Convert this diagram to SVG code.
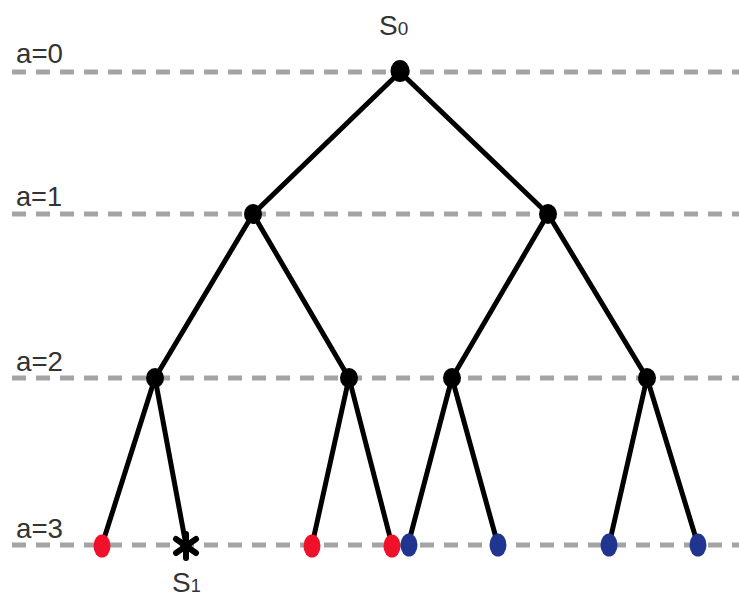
<svg xmlns="http://www.w3.org/2000/svg" width="739" height="606" viewBox="0 0 739 606">
<style>
.lvl{stroke:#a4a4a4;stroke-width:5;stroke-dasharray:14 10;fill:none}
.edge{stroke:#000;stroke-width:5;fill:none;stroke-linecap:round}
.lab{font-family:"Liberation Sans",Arial,sans-serif;font-size:28px;fill:#333}
.nd{fill:#000}
.red{fill:#f0102a}
.blue{fill:#1f3590}
</style>
<rect width="739" height="606" fill="#fff"/>
<g id="levels">
<line class="lvl" x1="12" y1="72" x2="739" y2="72"/>
<line class="lvl" x1="12" y1="214" x2="739" y2="214"/>
<line class="lvl" x1="12" y1="378" x2="739" y2="378"/>
<line class="lvl" x1="12" y1="545" x2="739" y2="545"/>
<text class="lab" x="16" y="63" textLength="47" lengthAdjust="spacingAndGlyphs">a=0</text>
<text class="lab" x="16" y="206" textLength="46" lengthAdjust="spacingAndGlyphs">a=1</text>
<text class="lab" x="16" y="371" textLength="47" lengthAdjust="spacingAndGlyphs">a=2</text>
<text class="lab" x="16" y="538" textLength="47" lengthAdjust="spacingAndGlyphs">a=3</text>
</g>
<g id="connectors">
<line class="edge" x1="400" y1="72" x2="253" y2="214"/>
<line class="edge" x1="400" y1="72" x2="548" y2="214"/>
<line class="edge" x1="253" y1="214" x2="155" y2="378"/>
<line class="edge" x1="253" y1="214" x2="349" y2="378"/>
<line class="edge" x1="548" y1="214" x2="452" y2="378"/>
<line class="edge" x1="548" y1="214" x2="647" y2="378"/>
<line class="edge" x1="155" y1="378" x2="102" y2="545"/>
<line class="edge" x1="155" y1="378" x2="186" y2="545"/>
<line class="edge" x1="349" y1="378" x2="312" y2="545"/>
<line class="edge" x1="349" y1="378" x2="392" y2="545"/>
<line class="edge" x1="452" y1="378" x2="408" y2="545"/>
<line class="edge" x1="452" y1="378" x2="498" y2="545"/>
<line class="edge" x1="647" y1="378" x2="609" y2="545"/>
<line class="edge" x1="647" y1="378" x2="698" y2="545"/>
</g>
<g id="s0"><ellipse class="nd" cx="400" cy="71" rx="9.5" ry="11"/>
<text class="lab" x="379" y="35" font-size="28">S<tspan font-size="19">0</tspan></text></g>
<g id="n1a"><ellipse class="nd" cx="253" cy="214" rx="9" ry="10"/></g>
<g id="n1b"><ellipse class="nd" cx="548" cy="214" rx="9" ry="10"/></g>
<g id="n2a"><ellipse class="nd" cx="155" cy="378" rx="9" ry="10"/></g>
<g id="n2b"><ellipse class="nd" cx="349" cy="378" rx="9" ry="10"/></g>
<g id="n2c"><ellipse class="nd" cx="452" cy="378" rx="9" ry="10"/></g>
<g id="n2d"><ellipse class="nd" cx="647" cy="378" rx="9" ry="10"/></g>
<g id="l1"><ellipse class="red" cx="102" cy="546" rx="8.5" ry="11.5"/></g>
<g id="s1"><g stroke="#000" stroke-width="6" stroke-linecap="round">
<line x1="186" y1="534" x2="186" y2="558"/>
<line x1="176" y1="539" x2="196" y2="553"/>
<line x1="176" y1="553" x2="196" y2="539"/></g>
<text class="lab" x="172" y="592" font-size="27">S<tspan font-size="18">1</tspan></text></g>
<g id="l3"><ellipse class="red" cx="312" cy="546" rx="8.5" ry="11.5"/></g>
<g id="l4"><ellipse class="red" cx="392" cy="546" rx="8.5" ry="11.5"/></g>
<g id="l5"><ellipse class="blue" cx="409" cy="545" rx="8.5" ry="11.5"/></g>
<g id="l6"><ellipse class="blue" cx="498" cy="545" rx="8.5" ry="11.5"/></g>
<g id="l7"><ellipse class="blue" cx="609" cy="545" rx="8.5" ry="11.5"/></g>
<g id="l8"><ellipse class="blue" cx="698" cy="545" rx="8.5" ry="11.5"/></g>
</svg>
